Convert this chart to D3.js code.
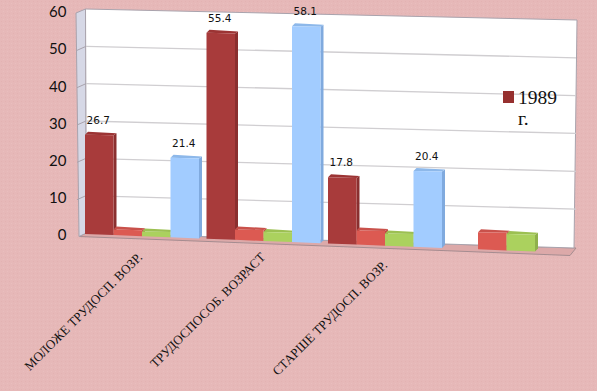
<!DOCTYPE html>
<html><head><meta charset="utf-8">
<script src="https://cdnjs.cloudflare.com/ajax/libs/d3/7.8.5/d3.min.js"></script>
<style>html,body{margin:0;padding:0;background:#e6b8b8;overflow:hidden}svg{display:block}</style>
</head><body><svg id="c" width="597" height="391"></svg>
<script>
const categories = ["МОЛОЖЕ ТРУДОСП. ВОЗР.", "ТРУДОСПОСОБ. ВОЗРАСТ", "СТАРШЕ ТРУДОСП. ВОЗР.", ""];
const seriesNames = ["1989 г.", "b", "c", "d"];
const series1989 = [26.7, 55.4, 17.8, null];
const seriesRed = [1.5, 2.8, 3.8, 4.6];
const seriesGreen = [1.3, 2.4, 3.3, 4.4];
const seriesBlue = [21.4, 58.1, 20.4, null];
const allSeries = [series1989, seriesRed, seriesGreen, seriesBlue];
const showLabels = [true, false, false, true];
const tickValues = [0, 10, 20, 30, 40, 50, 60];
const palette = [
  {front:"#a83b3b", side:"#8a2f2f", top:"#9c3434"},
  {front:"#dc5a52", side:"#c04a44", top:"#c9514b"},
  {front:"#abd15e", side:"#8fb04c", top:"#9cc052"},
  {front:"#a2ccff", side:"#80aade", top:"#8db8ea"}
];

const svg = d3.select("#c");
const defs = svg.append("defs");
const pat = defs.append("pattern").attr("id","tex").attr("width",4).attr("height",4).attr("patternUnits","userSpaceOnUse");
pat.append("rect").attr("width",4).attr("height",4).attr("fill","#e6b8b8");
pat.append("rect").attr("x",1).attr("y",1).attr("width",1).attr("height",1).attr("fill","#e3b2b2");
pat.append("rect").attr("x",3).attr("y",3).attr("width",1).attr("height",1).attr("fill","#e9bebe");
svg.append("rect").attr("width",597).attr("height",391).attr("fill","url(#tex)");

// scales
const x0 = d3.scaleBand().domain(d3.range(categories.length)).range([81, 567]);
const x1 = d3.scaleBand().domain(d3.range(allSeries.length)).range([4, 118]);
const y = d3.scaleLinear().domain([0, 60]).range([234, 11]);
const slope = 0.039, ox = 85;
const yAt = (v, x) => y(v) + slope * (x - ox);
const wallL = d3.scaleLinear().domain([0,60]).range([233, 9]);
const wallR = d3.scaleLinear().domain([0,60]).range([247, 20]);
const wallY = (v, x) => {
  const t = (x - 86) / (577 - 86);
  return wallL(v) + (wallR(v) - wallL(v)) * t;
};
const poly = p => p.map(q => q.join(",")).join(" ");

// floor
svg.append("polygon").attr("points", poly([[79,236.5],[86,233],[576,248],[570,255.5]])).attr("fill","#dca9a9").attr("stroke","#a58c90").attr("stroke-width",1);
// side wall
svg.append("polygon").attr("points", poly([[76,13],[85.5,9],[86.5,233],[79,236.5]])).attr("fill","#d6d8e6").attr("stroke","#a9a3ad").attr("stroke-width",1);
// back wall
svg.append("polygon").attr("points", poly([[85.5,9],[577,20],[574,248],[86.5,233]])).attr("fill","#ffffff").attr("stroke","#a9a3ad").attr("stroke-width",1);

// grid
tickValues.filter(v => v > 0 && v < 60).forEach(v => {
  svg.append("line").attr("x1",86).attr("x2",576).attr("y1",wallY(v,86)).attr("y2",wallY(v,576)).attr("stroke","#d0ced1").attr("stroke-width",1.3);
  svg.append("line").attr("x1",77).attr("x2",86).attr("y1",wallY(v,86)+4).attr("y2",wallY(v,86)).attr("stroke","#a9a3ad").attr("stroke-width",1);
});

// axis labels
const yt = d3.scaleLinear().domain([0, 60]).range([235, 12]);
const ax = svg.append("g").attr("transform","translate(66.5,0)").call(d3.axisLeft(yt).tickValues(tickValues).tickSize(0).tickPadding(0));
ax.select(".domain").remove();
ax.selectAll("text").attr("font-family","Lato, sans-serif").attr("font-size",15).attr("fill","#111");

// bars
const dx = 3, dy = 3;
allSeries.forEach((vals, s) => {
  vals.forEach((v, c) => {
    if (v === null) return;
    const xa = x0(c) + x1(s), xb = xa + x1.bandwidth();
    const ta = yAt(v, xa), tb = ta + 0.6;
    const ba = yAt(0, xa), bb = yAt(0, xb);
    const g = svg.append("g");
    g.append("polygon").attr("points", poly([[xb,tb],[xb+dx,tb-dy+1],[xb+dx,bb-dy],[xb,bb]])).attr("fill",palette[s].side);
    g.append("polygon").attr("points", poly([[xa,ta],[xa+dx,ta-dy],[xb+dx,tb-dy+1],[xb,tb]])).attr("fill",palette[s].top);
    g.append("polygon").attr("points", poly([[xa,ta],[xb,tb],[xb,bb],[xa,ba]])).attr("fill",palette[s].front);
    if (showLabels[s]) {
      g.append("text").attr("x",(xa+xb)/2 - 1).attr("y",ta-11).attr("text-anchor","middle")
        .attr("font-family","'DejaVu Sans', sans-serif").attr("font-size",10.5).attr("fill","#111").text(v.toFixed(1));
    }
  });
});

// category labels
categories.forEach((name, c) => {
  if (!name) return;
  const ends = [[143,258],[266,258],[388,266]][c];
  svg.append("text").attr("transform",`translate(${ends[0]},${ends[1]}) rotate(-45)`).attr("text-anchor","end")
    .attr("font-family","'Liberation Serif', serif").attr("font-size",13).attr("fill","#111").text(name);
});

// legend
svg.append("rect").attr("x",503).attr("y",91).attr("width",11).attr("height",12).attr("fill","#96302f");
const parts = seriesNames[0].split(" ");
parts.forEach((p, i) => {
  svg.append("text").attr("x", 518).attr("y", i === 0 ? 104 : 125)
    .attr("font-family","'Liberation Serif', serif").attr("font-size",19.5).attr("fill","#111").text(p);
});
</script></body></html>
